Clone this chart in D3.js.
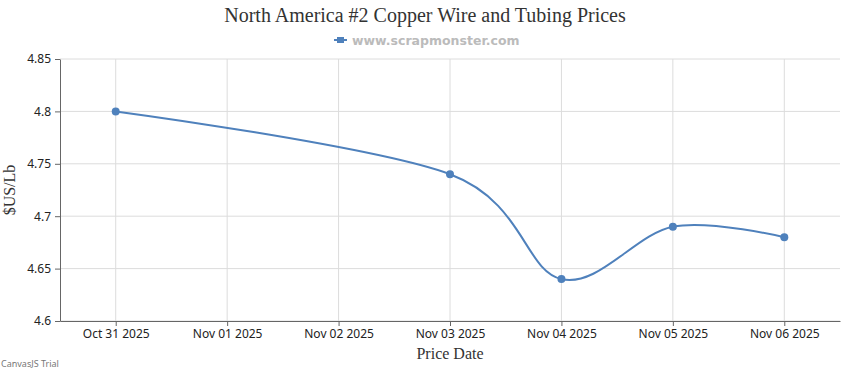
<!DOCTYPE html>
<html>
<head>
<meta charset="utf-8">
<script src="https://cdn.jsdelivr.net/npm/d3@7"></script>
<style>
  body { margin: 0; background: #fff; }
  svg { display: block; }
</style>
</head>
<body>
<svg id="chart" width="850" height="370"></svg>
<script>
// price series
const dates = ["2025-10-31", "2025-11-03", "2025-11-04", "2025-11-05", "2025-11-06"];
const prices = [4.80, 4.74, 4.64, 4.69, 4.68];
const xTickDates = ["2025-10-31", "2025-11-01", "2025-11-02", "2025-11-03", "2025-11-04", "2025-11-05", "2025-11-06"];
const yTicks = [4.6, 4.65, 4.7, 4.75, 4.8, 4.85];

const w = 850, h = 370;
const margin = {top: 59, right: 10, bottom: 49, left: 60};
const parse = d3.utcParse("%Y-%m-%d");
const fmt = d3.utcFormat("%b %d %Y");
const halfDay = 12 * 3600 * 1000;

const data = dates.map((d, i) => ({date: parse(d), value: prices[i]}));

const svg = d3.select("#chart");

const x = d3.scaleUtc()
    .domain([new Date(+parse(xTickDates[0]) - halfDay), new Date(+parse(xTickDates[xTickDates.length - 1]) + halfDay)])
    .range([margin.left, w - margin.right]);
const y = d3.scaleLinear()
    .domain([4.6, 4.85])
    .range([h - margin.bottom, margin.top]);

// grid
svg.append("g")
    .selectAll("line")
    .data(yTicks)
    .join("line")
    .attr("x1", margin.left).attr("x2", w - margin.right)
    .attr("y1", d => y(d)).attr("y2", d => y(d))
    .attr("stroke", "#dcdcdc").attr("stroke-width", 1);
svg.append("g")
    .selectAll("line")
    .data(xTickDates.map(parse))
    .join("line")
    .attr("x1", d => x(d)).attr("x2", d => x(d))
    .attr("y1", margin.top).attr("y2", h - margin.bottom)
    .attr("stroke", "#dcdcdc").attr("stroke-width", 1);

// axes
const xAxis = svg.append("g")
    .attr("transform", `translate(0,${h - margin.bottom})`)
    .call(d3.axisBottom(x).tickValues(xTickDates.map(parse)).tickFormat(fmt).tickSize(5).tickSizeOuter(0));
const yAxis = svg.append("g")
    .attr("transform", `translate(${margin.left},0)`)
    .call(d3.axisLeft(y).tickValues(yTicks).tickFormat(d3.format("")).tickSize(5).tickSizeOuter(0));

[xAxis, yAxis].forEach(a => {
  a.select(".domain").attr("stroke", "#666");
  a.selectAll(".tick line").attr("stroke", "#666");
  a.selectAll(".tick text")
    .attr("font-family", "'Noto Sans', sans-serif")
    .attr("font-size", 12)
    .attr("fill", "#222");
});
xAxis.selectAll(".tick text").attr("y", 6).attr("dy", "0.95em");
yAxis.selectAll(".tick text").attr("x", -9);

// line
const line = d3.line()
    .x(d => x(d.date))
    .y(d => y(d.value))
    .curve(d3.curveCardinal.tension(0));
svg.append("path")
    .datum(data)
    .attr("d", line)
    .attr("fill", "none")
    .attr("stroke", "#4F81BC")
    .attr("stroke-width", 2);
svg.append("g")
    .selectAll("circle")
    .data(data)
    .join("circle")
    .attr("cx", d => x(d.date))
    .attr("cy", d => y(d.value))
    .attr("r", 4)
    .attr("fill", "#4F81BC");

// title + legend
svg.append("text")
    .attr("x", w / 2).attr("y", 22)
    .attr("text-anchor", "middle")
    .attr("font-family", "'Liberation Serif', serif")
    .attr("font-size", 20)
    .attr("fill", "#333")
    .text("North America #2 Copper Wire and Tubing Prices");

const leg = svg.append("g").attr("transform", "translate(334,40)");
leg.append("line").attr("x1", 0).attr("x2", 13).attr("y1", 0).attr("y2", 0)
    .attr("stroke", "#4F81BC").attr("stroke-width", 2);
leg.append("rect").attr("x", 3).attr("y", -3).attr("width", 7).attr("height", 6).attr("fill", "#4F81BC");
leg.append("text")
    .attr("x", 18).attr("y", 4.5)
    .attr("font-family", "'DejaVu Sans', sans-serif")
    .attr("font-weight", "bold")
    .attr("font-size", 12.5)
    .attr("fill", "#bbb")
    .text("www.scrapmonster.com");

// axis titles
svg.append("text")
    .attr("transform", `translate(15,${(margin.top + h - margin.bottom) / 2}) rotate(-90)`)
    .attr("text-anchor", "middle")
    .attr("font-family", "'Liberation Serif', serif")
    .attr("font-size", 16)
    .attr("fill", "#333")
    .text("$US/Lb");
svg.append("text")
    .attr("x", (margin.left + w - margin.right) / 2).attr("y", 359)
    .attr("text-anchor", "middle")
    .attr("font-family", "'Liberation Serif', serif")
    .attr("font-size", 16)
    .attr("fill", "#333")
    .text("Price Date");

svg.append("text")
    .attr("x", 1).attr("y", 367)
    .attr("font-family", "'Noto Sans', sans-serif")
    .attr("font-size", 9)
    .attr("fill", "#777")
    .text("CanvasJS Trial");
</script>
</body>
</html>
